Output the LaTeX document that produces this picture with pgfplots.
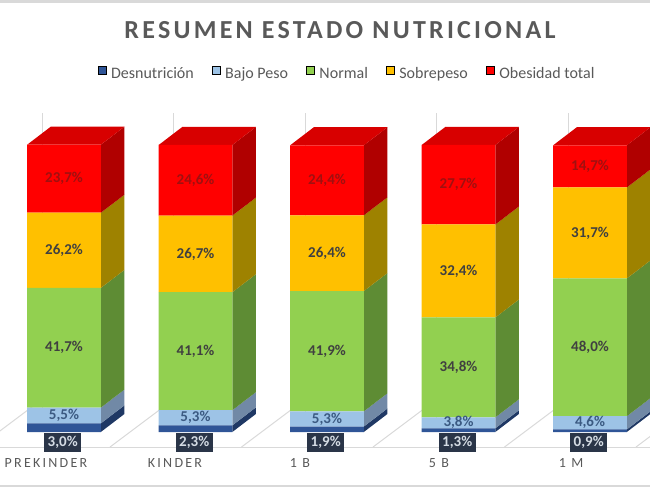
\documentclass[border=0pt]{standalone}
\usepackage{pgfplots}
\pgfplotsset{compat=1.18}
\usepackage{fontspec}
\setmainfont{Carlito}
\definecolor{cDes}{HTML}{2F5597}
\definecolor{cDesS}{HTML}{1F3864}
\definecolor{cBaj}{HTML}{9DC3E6}
\definecolor{cBajS}{HTML}{7189A6}
\definecolor{cNor}{HTML}{92D050}
\definecolor{cNorS}{HTML}{5E8C34}
\definecolor{cSob}{HTML}{FFC000}
\definecolor{cSobS}{HTML}{9E8200}
\definecolor{cObe}{HTML}{FF0000}
\definecolor{cObeS}{HTML}{B00000}
\definecolor{cObeT}{HTML}{D80000}
\definecolor{txt}{HTML}{595959}
\definecolor{lblbox}{HTML}{2A3548}
\definecolor{boxtxt}{HTML}{D5DCE4}
\definecolor{gridc}{HTML}{D9D9D9}
\definecolor{darktxt}{HTML}{404040}
\definecolor{redtxt}{HTML}{A01010}
\definecolor{bluetxt}{HTML}{3B5A82}
\pgfplotsset{base/.style={scale only axis, width=650pt, height=487pt,
  xmin=-0.4867, xmax=4.4563, ymin=-19.16, ymax=150.52, hide axis}}
\tikzset{lbl/.style={font=\fontsize{15}{17}\selectfont\bfseries, text=darktxt, inner sep=0pt},
  dbox/.style={lbl, text=boxtxt, fill=lblbox, minimum width=37pt, minimum height=19pt},
  cat/.style={font=\fontsize{14}{16}\selectfont\addfontfeatures{LetterSpace=16}, text=txt}}
\begin{document}
\begin{tikzpicture}
% ---------- background lines ----------
\begin{axis}[base]
\addplot[gridc, line width=6pt] coordinates {(-0.5,150.52) (4.5,150.52)};
\addplot[gridc, line width=1.2pt] coordinates {(-0.5,-18.8) (4.5,-18.8)};
\addplot[gridc, line width=1pt] coordinates {(-0.5,-5.23) (4.5,-5.23)};
\addplot[gridc, line width=1pt] coordinates {(-0.65,-5.23) (0.08,19.85)};
\addplot[gridc, line width=1pt] coordinates {(0.35,-5.23) (1.08,19.85)};
\addplot[gridc, line width=1pt] coordinates {(1.35,-5.23) (2.08,19.85)};
\addplot[gridc, line width=1pt] coordinates {(2.35,-5.23) (3.08,19.85)};
\addplot[gridc, line width=1pt] coordinates {(3.35,-5.23) (4.08,19.85)};
\addplot[gridc, line width=1pt] coordinates {(4.35,-5.23) (5.08,19.85)};
\addplot[gridc, line width=1pt] coordinates {(-0.167,5) (-0.167,111.1)};
\addplot[gridc, line width=1pt] coordinates {(0.833,5) (0.833,111.1)};
\addplot[gridc, line width=1pt] coordinates {(1.833,5) (1.833,111.1)};
\addplot[gridc, line width=1pt] coordinates {(2.833,5) (2.833,111.1)};
\addplot[gridc, line width=1pt] coordinates {(3.833,5) (3.833,111.1)};
\path (rel axis cs:0,0) rectangle (rel axis cs:1,1);
\end{axis}
% ---------- 3D bars ----------
\begin{axis}[base]
% PREKINDER
\addplot[fill=cDesS, draw=none] coordinates {(0.28,0) (0.46,6.3) (0.46,9.3) (0.28,3.0)} --cycle;
\addplot[fill=cBajS, draw=none] coordinates {(0.28,3.0) (0.46,9.3) (0.46,14.8) (0.28,8.5)} --cycle;
\addplot[fill=cNorS, draw=none] coordinates {(0.28,8.5) (0.46,14.8) (0.46,56.5) (0.28,50.2)} --cycle;
\addplot[fill=cSobS, draw=none] coordinates {(0.28,50.2) (0.46,56.5) (0.46,82.7) (0.28,76.4)} --cycle;
\addplot[fill=cObeS, draw=none] coordinates {(0.28,76.4) (0.46,82.7) (0.46,106.4) (0.28,100.1)} --cycle;
\addplot[fill=cObeT, draw=none] coordinates {(-0.28,100.1) (0.28,100.1) (0.46,106.4) (-0.10,106.4)} --cycle;
% KINDER
\addplot[fill=cDesS, draw=none] coordinates {(1.28,0) (1.46,6.3) (1.46,8.6) (1.28,2.3)} --cycle;
\addplot[fill=cBajS, draw=none] coordinates {(1.28,2.3) (1.46,8.6) (1.46,13.9) (1.28,7.6)} --cycle;
\addplot[fill=cNorS, draw=none] coordinates {(1.28,7.6) (1.46,13.9) (1.46,55.0) (1.28,48.7)} --cycle;
\addplot[fill=cSobS, draw=none] coordinates {(1.28,48.7) (1.46,55.0) (1.46,81.7) (1.28,75.4)} --cycle;
\addplot[fill=cObeS, draw=none] coordinates {(1.28,75.4) (1.46,81.7) (1.46,106.3) (1.28,100.0)} --cycle;
\addplot[fill=cObeT, draw=none] coordinates {(0.72,100.0) (1.28,100.0) (1.46,106.3) (0.90,106.3)} --cycle;
% 1 B
\addplot[fill=cDesS, draw=none] coordinates {(2.28,0) (2.46,6.3) (2.46,8.2) (2.28,1.9)} --cycle;
\addplot[fill=cBajS, draw=none] coordinates {(2.28,1.9) (2.46,8.2) (2.46,13.5) (2.28,7.2)} --cycle;
\addplot[fill=cNorS, draw=none] coordinates {(2.28,7.2) (2.46,13.5) (2.46,55.4) (2.28,49.1)} --cycle;
\addplot[fill=cSobS, draw=none] coordinates {(2.28,49.1) (2.46,55.4) (2.46,81.8) (2.28,75.5)} --cycle;
\addplot[fill=cObeS, draw=none] coordinates {(2.28,75.5) (2.46,81.8) (2.46,106.2) (2.28,99.9)} --cycle;
\addplot[fill=cObeT, draw=none] coordinates {(1.72,99.9) (2.28,99.9) (2.46,106.2) (1.90,106.2)} --cycle;
% 5 B
\addplot[fill=cDesS, draw=none] coordinates {(3.28,0) (3.46,6.3) (3.46,7.6) (3.28,1.3)} --cycle;
\addplot[fill=cBajS, draw=none] coordinates {(3.28,1.3) (3.46,7.6) (3.46,11.4) (3.28,5.1)} --cycle;
\addplot[fill=cNorS, draw=none] coordinates {(3.28,5.1) (3.46,11.4) (3.46,46.2) (3.28,39.9)} --cycle;
\addplot[fill=cSobS, draw=none] coordinates {(3.28,39.9) (3.46,46.2) (3.46,78.6) (3.28,72.3)} --cycle;
\addplot[fill=cObeS, draw=none] coordinates {(3.28,72.3) (3.46,78.6) (3.46,106.3) (3.28,100.0)} --cycle;
\addplot[fill=cObeT, draw=none] coordinates {(2.72,100.0) (3.28,100.0) (3.46,106.3) (2.90,106.3)} --cycle;
% 1 M
\addplot[fill=cDesS, draw=none] coordinates {(4.28,0) (4.46,6.3) (4.46,7.2) (4.28,0.9)} --cycle;
\addplot[fill=cBajS, draw=none] coordinates {(4.28,0.9) (4.46,7.2) (4.46,11.8) (4.28,5.5)} --cycle;
\addplot[fill=cNorS, draw=none] coordinates {(4.28,5.5) (4.46,11.8) (4.46,59.8) (4.28,53.5)} --cycle;
\addplot[fill=cSobS, draw=none] coordinates {(4.28,53.5) (4.46,59.8) (4.46,91.5) (4.28,85.2)} --cycle;
\addplot[fill=cObeS, draw=none] coordinates {(4.28,85.2) (4.46,91.5) (4.46,106.2) (4.28,99.9)} --cycle;
\addplot[fill=cObeT, draw=none] coordinates {(3.72,99.9) (4.28,99.9) (4.46,106.2) (3.90,106.2)} --cycle;
\end{axis}
\begin{axis}[base, ybar stacked, bar width=0.56]
\addplot[fill=cDes, draw=none] coordinates {(0,3.0) (1,2.3) (2,1.9) (3,1.3) (4,0.9)};
\addplot[fill=cBaj, draw=none] coordinates {(0,5.5) (1,5.3) (2,5.3) (3,3.8) (4,4.6)};
\addplot[fill=cNor, draw=none] coordinates {(0,41.7) (1,41.1) (2,41.9) (3,34.8) (4,48.0)};
\addplot[fill=cSob, draw=none] coordinates {(0,26.2) (1,26.7) (2,26.4) (3,32.4) (4,31.7)};
\addplot[fill=cObe, draw=none] coordinates {(0,23.7) (1,24.6) (2,24.4) (3,27.7) (4,14.7)};
\end{axis}
% ---------- texts ----------
\begin{axis}[base,
  legend entries={Desnutrición, Bajo Peso, Normal, Sobrepeso, Obesidad total},
  legend image code/.code={\fill[#1] (0pt,-0.5pt) rectangle (8pt,7.5pt);},
  legend style={at={(axis cs:2.145,125)}, anchor=center, draw=none, fill=none,
    legend columns=5, font=\fontsize{16}{18}\selectfont, text=txt,
    nodes={inner sep=0pt},
    /tikz/every odd column/.append style={column sep=5pt},
    /tikz/every even column/.append style={column sep=18pt}},
  ]
\addlegendimage{fill=cDes}
\addlegendimage{fill=cBaj}
\addlegendimage{fill=cNor}
\addlegendimage{fill=cSob}
\addlegendimage{fill=cObe}
\node[font=\fontsize{26}{30}\selectfont\bfseries\addfontfeatures{LetterSpace=12.5}, text=txt] at (axis cs:2.099,140.1) {RESUMEN ESTADO NUTRICIONAL};
\node[cat] at (axis cs:-0.137,-10.8) {PREKINDER};
\node[cat] at (axis cs:0.844,-10.8) {KINDER};
\node[cat] at (axis cs:1.795,-10.8) {1 B};
\node[cat] at (axis cs:2.852,-10.8) {5 B};
\node[cat] at (axis cs:3.856,-10.8) {1 M};
% Obesidad
\node[lbl, text=redtxt] at (axis cs:0,88.25) {23,7\%};
\node[lbl, text=redtxt] at (axis cs:1,87.7) {24,6\%};
\node[lbl, text=redtxt] at (axis cs:2,87.7) {24,4\%};
\node[lbl, text=redtxt] at (axis cs:3,86.15) {27,7\%};
\node[lbl, text=redtxt] at (axis cs:4,92.55) {14,7\%};
% Sobrepeso
\node[lbl] at (axis cs:0,63.3) {26,2\%};
\node[lbl] at (axis cs:1,62.05) {26,7\%};
\node[lbl] at (axis cs:2,62.3) {26,4\%};
\node[lbl] at (axis cs:3,56.1) {32,4\%};
\node[lbl] at (axis cs:4,69.35) {31,7\%};
% Normal
\node[lbl] at (axis cs:0,29.35) {41,7\%};
\node[lbl] at (axis cs:1,28.15) {41,1\%};
\node[lbl] at (axis cs:2,28.15) {41,9\%};
\node[lbl] at (axis cs:3,22.5) {34,8\%};
\node[lbl] at (axis cs:4,29.5) {48,0\%};
% Bajo peso
\node[lbl, text=bluetxt] at (axis cs:0,5.75) {5,5\%};
\node[lbl, text=bluetxt] at (axis cs:1,4.95) {5,3\%};
\node[lbl, text=bluetxt] at (axis cs:2,4.55) {5,3\%};
\node[lbl, text=bluetxt] at (axis cs:3,3.2) {3,8\%};
\node[lbl, text=bluetxt] at (axis cs:4,3.2) {4,6\%};
% Desnutricion
\node[dbox] at (axis cs:-0.01,-3.66) {3,0\%};
\node[dbox] at (axis cs:0.99,-3.66) {2,3\%};
\node[dbox] at (axis cs:1.99,-3.66) {1,9\%};
\node[dbox] at (axis cs:2.99,-3.66) {1,3\%};
\node[dbox] at (axis cs:3.99,-3.66) {0,9\%};
\end{axis}
\end{tikzpicture}
\end{document}
